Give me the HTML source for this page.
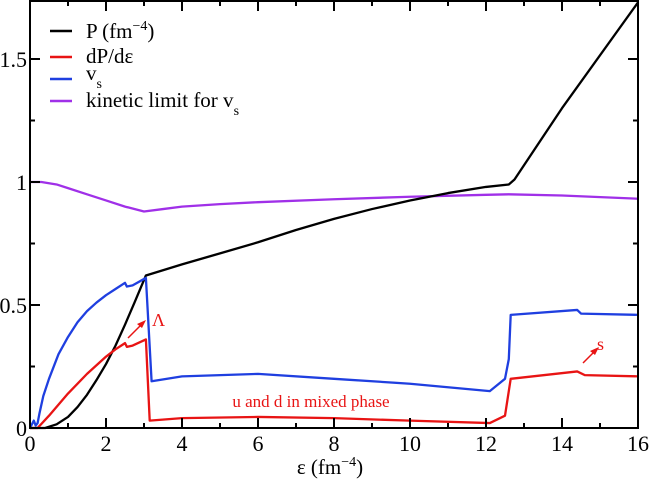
<!DOCTYPE html>
<html><head><meta charset="utf-8"><style>
body{margin:0;background:#fff}
svg{position:absolute;left:0;top:0}
svg text{font-family:"Liberation Serif","DejaVu Serif",serif !important;}
</style></head><body>
<svg id="c" width="650" height="481">
<g id="plot"></g>
</svg>
<script>
const P_x=[0,0.4,0.7,1,1.25,1.5,1.75,2,2.25,2.5,2.75,3.05,4,5,6,7,8,9,10,11,12,12.6,12.75,14,16];
const P_y=[0,0,0.015,0.045,0.085,0.135,0.195,0.26,0.335,0.42,0.51,0.62,0.665,0.71,0.755,0.805,0.85,0.89,0.925,0.955,0.98,0.99,1.01,1.3,1.73];
const K_x=[0,0.3,0.7,1,1.5,2,2.5,3,3.5,4,5,6,8,10,12,12.6,14,16];
const K_y=[1,1,0.99,0.975,0.95,0.925,0.9,0.88,0.89,0.9,0.91,0.918,0.93,0.94,0.948,0.95,0.945,0.932];
const V_x=[0,0.1,0.15,0.2,0.25,0.35,0.5,0.75,1,1.25,1.5,1.75,2,2.25,2.45,2.5,2.55,2.7,3.05,3.2,4,6,8,10,12.1,12.5,12.6,12.65,14.4,14.5,16];
const V_y=[0,0.03,0.01,0.02,0.06,0.13,0.2,0.3,0.37,0.43,0.475,0.51,0.54,0.565,0.585,0.59,0.575,0.58,0.61,0.19,0.21,0.22,0.2,0.18,0.15,0.2,0.28,0.46,0.48,0.465,0.46];
const D_x=[0,0.2,0.5,1,1.5,2,2.25,2.45,2.5,2.55,2.7,3.05,3.15,4,6,8,10,12.1,12.5,12.65,14.4,14.6,16];
const D_y=[0,0,0.05,0.14,0.22,0.29,0.32,0.34,0.345,0.33,0.335,0.36,0.03,0.04,0.045,0.04,0.03,0.02,0.05,0.2,0.23,0.215,0.21];
const xTicks=[0,2,4,6,8,10,12,14,16];
const yTicks=[0,0.5,1,1.5];
const X0=30,X1=638,Y0=428,YS=246;
const xs=v=>X0+v*(X1-X0)/16, ys=v=>Y0-v*YS;
const g=document.getElementById('plot');const NS='http://www.w3.org/2000/svg';
function el(t,a,txt){const e=document.createElementNS(NS,t);for(const k in a)e.setAttribute(k,a[k]);if(txt!==undefined)e.textContent=txt;g.appendChild(e);return e;}
function line(xa,ya,col,name){const e=el('polyline',{points:xa.map((x,i)=>xs(x)+','+ys(ya[i])).join(' '),fill:'none',stroke:col,'stroke-width':2.3,'stroke-linejoin':'round'});

}
line(K_x,K_y,'#a030e8','kinetic-limit-line');
line(P_x,P_y,'#000','pressure-line');
line(V_x,V_y,'#1f3fe0','vs-line');
line(D_x,D_y,'#e81414','dp-de-line');
const fr=el('rect',{x:X0,y:1,width:X1-X0,height:Y0-1,fill:'none',stroke:'#000','stroke-width':2});


xTicks.forEach(t=>{el('line',{x1:xs(t),x2:xs(t),y1:Y0,y2:Y0-10,stroke:'#000','stroke-width':2});
el('line',{x1:xs(t),x2:xs(t),y1:1,y2:11,stroke:'#000','stroke-width':2});
if(t<16){el('line',{x1:xs(t+1),x2:xs(t+1),y1:Y0,y2:Y0-5,stroke:'#000','stroke-width':2});el('line',{x1:xs(t+1),x2:xs(t+1),y1:1,y2:6,stroke:'#000','stroke-width':2});}
const l=el('text',{x:xs(t),y:451,'text-anchor':'middle','font-size':22},String(t));

});
yTicks.forEach(t=>{el('line',{x1:X0,x2:X0+10,y1:ys(t),y2:ys(t),stroke:'#000','stroke-width':2});
el('line',{x1:X1,x2:X1-10,y1:ys(t),y2:ys(t),stroke:'#000','stroke-width':2});
el('line',{x1:X0,x2:X0+5,y1:ys(t+0.25),y2:ys(t+0.25),stroke:'#000','stroke-width':2});
el('line',{x1:X1,x2:X1-5,y1:ys(t+0.25),y2:ys(t+0.25),stroke:'#000','stroke-width':2});
const l=el('text',{x:X0-3,y:ys(t)+8,'text-anchor':'end','font-size':22},String(t));

});
</script>
<svg width="650" height="481">
<g font-size="21">
<line x1="50" x2="72" y1="31" y2="31" stroke="#000" stroke-width="2.5"/><text x="86" y="38">P (fm<tspan dy="-8" font-size="14">−4</tspan><tspan dy="8">)</tspan></text>
<line x1="50" x2="72" y1="57" y2="57" stroke="#e81414" stroke-width="2.5"/><text x="86" y="63">dP/dε</text>
<line x1="50" x2="72" y1="79" y2="79" stroke="#1f3fe0" stroke-width="2.5"/><text x="86" y="80">v<tspan dy="8" font-size="14">s</tspan></text>
<line x1="50" x2="72" y1="101" y2="101" stroke="#a030e8" stroke-width="2.5"/><text x="86" y="107">kinetic limit for v<tspan dy="8" font-size="14">s</tspan></text>
</g>
<text x="152" y="326" fill="#e81414" font-size="18">Λ</text>
<line x1="128" y1="338" x2="143" y2="323" stroke="#e81414" stroke-width="1.5"/><polygon points="146,320 137,324 142,328" fill="#e81414"/>
<text x="311" y="407" text-anchor="middle" fill="#e81414" font-size="17">u and d in mixed phase</text>
<text x="597" y="350" fill="#e81414" font-size="18">s</text>
<line x1="583" y1="363" x2="596" y2="350" stroke="#e81414" stroke-width="1.5"/><polygon points="599,347 590,351 595,355" fill="#e81414"/>
<text x="330" y="474" text-anchor="middle" font-size="21">ε (fm<tspan dy="-8" font-size="14">−4</tspan><tspan dy="8">)</tspan></text>
</svg>
</body></html>
